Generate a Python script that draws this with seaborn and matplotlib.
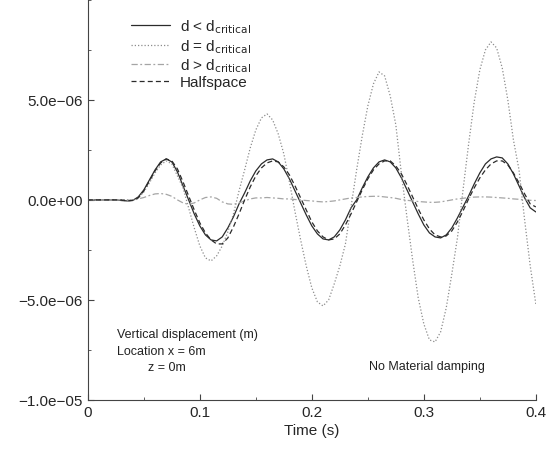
import numpy as np
import pandas as pd
import matplotlib
matplotlib.use("Agg")
import matplotlib.pyplot as plt
import seaborn as sns
from matplotlib.ticker import MultipleLocator

# time grid (s), 81 samples from 0 to 0.4
time_s = np.linspace(0.0, 0.4, 81)

# vertical displacement in units of 1e-6 m
d_below = [
    0, 0, 0, 0, 0, 0, -0.03, -0.05, -0.03, 0.15,
    0.5, 1.0, 1.5, 1.9, 2.05, 1.9, 1.4, 0.7, 0.0, -0.7,
    -1.3, -1.75, -2.0, -2.05, -1.85, -1.4, -0.85, -0.2, 0.35, 0.95,
    1.45, 1.8, 2.0, 2.05, 1.9, 1.55, 1.05, 0.45, -0.15, -0.75,
    -1.3, -1.7, -1.95, -2.0, -1.85, -1.5, -1.0, -0.4, 0.0, 0.6,
    1.15, 1.6, 1.9, 2.0, 1.9, 1.6, 1.1, 0.5, -0.1, -0.7,
    -1.25, -1.65, -1.85, -1.9, -1.75, -1.4, -0.9, -0.35, 0.2, 0.8,
    1.35, 1.8, 2.05, 2.15, 2.1, 1.8, 1.3, 0.7, 0.1, -0.4,
    -0.6,
]
d_equal = [
    0, 0, 0, 0, 0, 0, 0, 0, -0.02, 0.1,
    0.4, 0.85, 1.35, 1.75, 1.95, 1.8, 1.2, 0.6, -0.4, -1.4,
    -2.3, -2.9, -3.05, -2.8, -2.3, -1.6, -0.7, 0.45, 1.5, 2.6,
    3.5, 4.1, 4.3, 4.0, 3.3, 2.3, 0.9, -0.6, -2.0, -3.3,
    -4.4, -5.1, -5.3, -5.0, -4.2, -3.3, -2.2, -0.35, 1.5, 3.2,
    4.7, 5.8, 6.4, 6.2, 5.2, 3.75, 1.3, -0.9, -3.0, -4.9,
    -6.2, -7.0, -7.1, -6.6, -5.4, -3.7, -1.9, 0.5, 2.8, 4.9,
    6.5, 7.5, 7.9, 7.6, 6.6, 5.0, 3.0, 1.5, -1.0, -3.3,
    -5.2,
]
d_above = [
    0, 0, 0, 0, 0, 0, 0, 0, -0.02, 0.05,
    0.12, 0.22, 0.3, 0.32, 0.28, 0.18, 0.0, -0.15, -0.22, -0.15,
    0.0, 0.12, 0.15, 0.08, -0.1, -0.2, -0.22, -0.15, -0.05, 0.05,
    0.1, 0.1, 0.12, 0.1, 0.08, 0.05, 0.05, 0.02, 0.0, -0.03,
    -0.05, -0.08, -0.1, -0.08, -0.05, 0.0, 0.05, 0.1, 0.12, 0.15,
    0.17, 0.18, 0.18, 0.15, 0.12, 0.08, 0.02, -0.02, -0.05, -0.08,
    -0.1, -0.12, -0.12, -0.1, -0.05, 0.0, 0.05, 0.08, 0.12, 0.14,
    0.15, 0.15, 0.14, 0.12, 0.1, 0.08, 0.05, 0.03, 0.0, -0.02,
    -0.03,
]
halfspace = [
    0, 0, 0, 0, 0, 0, 0, -0.05, -0.02, 0.1,
    0.45, 0.95, 1.45, 1.85, 2.05, 1.95, 1.55, 0.9, 0.2, -0.5,
    -1.15, -1.65, -2.0, -2.2, -2.2, -1.9, -1.35, -0.7, 0.0, 0.65,
    1.2, 1.6, 1.85, 1.95, 1.9, 1.65, 1.25, 0.7, 0.1, -0.5,
    -1.1, -1.55, -1.85, -2.0, -1.95, -1.7, -1.25, -0.7, -0.1, 0.5,
    1.05, 1.5, 1.8, 1.95, 1.95, 1.7, 1.3, 0.75, 0.15, -0.45,
    -1.0, -1.45, -1.75, -1.85, -1.8, -1.55, -1.1, -0.55, 0.05, 0.6,
    1.1, 1.5, 1.8, 1.95, 1.95, 1.75, 1.35, 0.85, 0.3, -0.2,
    -0.35,
]

labels = [r"d < d$_{\mathrm{critical}}$", r"d = d$_{\mathrm{critical}}$",
          r"d > d$_{\mathrm{critical}}$", "Halfspace"]
series = [d_below, d_equal, d_above, halfspace]

frames = []
for lab, vals in zip(labels, series):
    frames.append(pd.DataFrame({"time": time_s,
                                "disp": np.array(vals) * 1e-6,
                                "case": lab}))
df = pd.concat(frames, ignore_index=True)

sns.set_style("ticks")
plt.rcParams["font.family"] = ["Liberation Sans", "DejaVu Sans"]

fig = plt.figure(figsize=(5.49, 4.52), dpi=100)
ax = fig.add_axes([0.160, 0.113, 0.816, 0.885])

palette = {labels[0]: "#2b2b2b", labels[1]: "#8c8c8c",
           labels[2]: "#a5a5a5", labels[3]: "#2b2b2b"}
dashes = {labels[0]: "", labels[1]: (1, 1.6),
          labels[2]: (5, 2, 1.5, 2), labels[3]: (4, 2.5)}

sns.lineplot(data=df, x="time", y="disp", hue="case", style="case",
             palette=palette, dashes=dashes, hue_order=labels,
             style_order=labels, linewidth=0.9, ax=ax)

ax.set_xlim(0, 0.4)
ax.set_ylim(-1e-5, 1e-5)
ax.set_xticks([0, 0.1, 0.2, 0.3, 0.4])
ax.set_xticklabels(["0", "0.1", "0.2", "0.3", "0.4"])
ax.set_yticks([-1e-5, -5e-6, 0, 5e-6])
ax.set_yticklabels(["\u22121.0e\u221205", "\u22125.0e\u221206",
                    "0.0e+00", "5.0e\u221206"])
ax.xaxis.set_minor_locator(MultipleLocator(0.05))
ax.yaxis.set_minor_locator(MultipleLocator(2.5e-6))
ax.tick_params(which="both", direction="in", labelsize=11, color="#444444")
ax.tick_params(which="major", length=4)
ax.tick_params(which="minor", length=2)
ax.set_xlabel("Time (s)", fontsize=11, labelpad=3)
ax.set_ylabel("")

for side in ["top", "right"]:
    ax.spines[side].set_visible(False)
for side in ["left", "bottom"]:
    ax.spines[side].set_linewidth(0.8)
    ax.spines[side].set_color("#444444")

ax.legend(loc="upper left", bbox_to_anchor=(0.065, 0.99), frameon=False,
          fontsize=11, handlelength=2.6, handletextpad=0.6,
          labelspacing=0.1, title=None)

ax.text(0.026, -6.7e-6, "Vertical displacement (m)", fontsize=9,
        color="#222222", va="center")
ax.text(0.026, -7.55e-6, "Location x = 6m", fontsize=9,
        color="#222222", va="center")
ax.text(0.054, -8.35e-6, "z = 0m", fontsize=9, color="#222222", va="center")
ax.text(0.303, -8.3e-6, "No Material damping", fontsize=9,
        color="#222222", ha="center", va="center")

fig.savefig("out.png", dpi=100)
